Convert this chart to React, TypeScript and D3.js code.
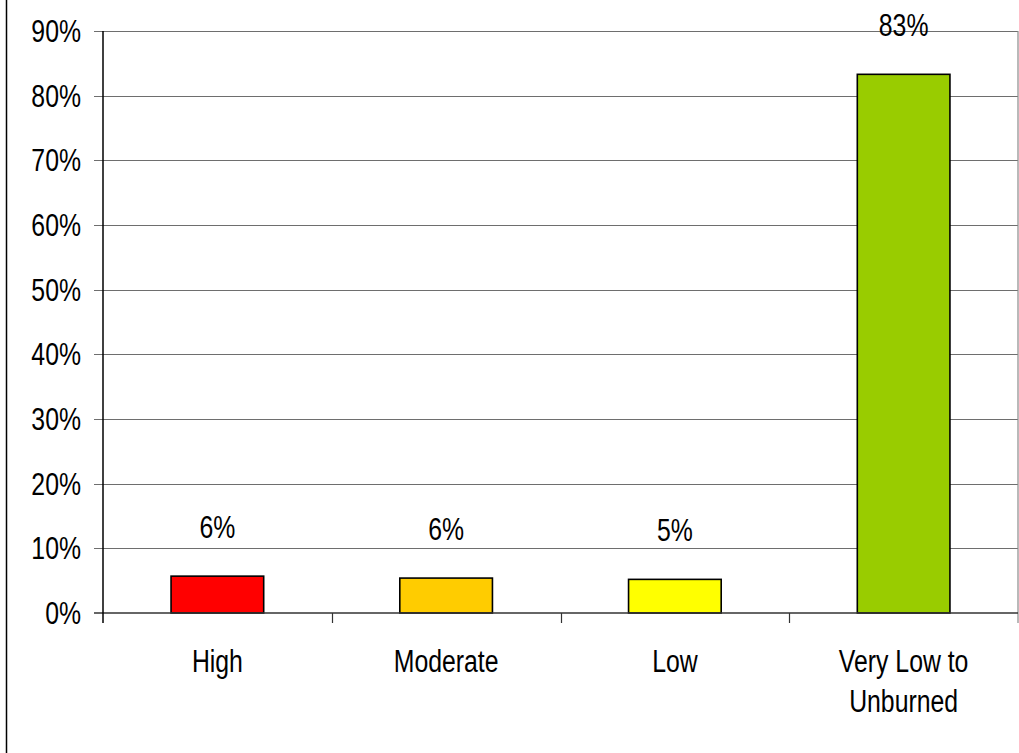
import * as React from 'react';
import * as d3 from 'd3';

const categories = ['High', 'Moderate', 'Low', 'Very Low to Unburned'];
const categoryLines = [['High'], ['Moderate'], ['Low'], ['Very Low to', 'Unburned']];
const values = [5.7, 5.4, 5.2, 83.3];
const valueLabels = ['6%', '6%', '5%', '83%'];
const barColors = ['#ff0000', '#ffcc00', '#ffff00', '#99cc00'];
const yTicks = [0, 10, 20, 30, 40, 50, 60, 70, 80, 90];

const width = 1019;
const height = 753;
const plot = { left: 103, right: 1018, top: 31, bottom: 613 };
const font = '"Liberation Sans", Arial, sans-serif';
const fontSize = 31;
// the original uses a narrow face; squeeze the regular one horizontally
const squeeze = 0.8;

export default class App extends React.Component {
    private node: SVGSVGElement | null = null;

    render() {
        return <svg
            ref={node => { this.node = node; }}
            width={width}
            height={height}
            style={{ position: 'absolute', left: 0, top: 0, background: '#fff' }}>
        </svg>;
    }

    componentDidMount() {
        this.draw();
    }

    draw() {
        const svg = d3.select(this.node);
        svg.selectAll('*').remove();

        const xScale = d3.scaleBand<string>()
            .domain(categories)
            .range([plot.left, plot.right])
            .padding(0);
        const yScale = d3.scaleLinear()
            .domain([0, 90])
            .range([plot.bottom, plot.top]);

        // outer frame line on the left
        svg.append('line')
            .attr('x1', 6.5).attr('x2', 6.5)
            .attr('y1', 0).attr('y2', height)
            .attr('stroke', '#000').attr('stroke-width', 1.5);

        // gridlines with small ticks to the left
        svg.append('g')
            .selectAll('line')
            .data(yTicks.filter(t => t > 0))
            .join('line')
            .attr('x1', plot.left - 9)
            .attr('x2', plot.right)
            .attr('y1', d => Math.round(yScale(d)) + 0.5)
            .attr('y2', d => Math.round(yScale(d)) + 0.5)
            .attr('stroke', '#6e6e6e')
            .attr('stroke-width', 1.2);

        // right border of plot area
        svg.append('line')
            .attr('x1', plot.right).attr('x2', plot.right)
            .attr('y1', plot.top).attr('y2', plot.bottom + 10)
            .attr('stroke', '#8a8a8a').attr('stroke-width', 1.2);

        // y tick labels
        svg.append('g')
            .selectAll('text')
            .data(yTicks)
            .join('text')
            .attr('transform', d => `translate(81,${yScale(d)}) scale(${squeeze},1)`)
            .attr('dy', '0.36em')
            .attr('text-anchor', 'end')
            .attr('font-family', font)
            .attr('font-size', fontSize)
            .attr('fill', '#000')
            .text(d => `${d}%`);

        // bars
        const barWidth = xScale.bandwidth() * 0.405;
        svg.append('g')
            .selectAll('rect')
            .data(categories)
            .join('rect')
            .attr('x', d => (xScale(d) || 0) + (xScale.bandwidth() - barWidth) / 2)
            .attr('y', (d, i) => yScale(values[i]))
            .attr('width', barWidth)
            .attr('height', (d, i) => yScale(0) - yScale(values[i]))
            .attr('fill', (d, i) => barColors[i])
            .attr('stroke', '#000')
            .attr('stroke-width', 1.6);

        // value labels
        svg.append('g')
            .selectAll('text')
            .data(categories)
            .join('text')
            .attr('transform', (d, i) =>
                `translate(${(xScale(d) || 0) + xScale.bandwidth() / 2},${yScale(values[i]) - 38}) scale(${squeeze},1)`)
            .attr('text-anchor', 'middle')
            .attr('font-family', font)
            .attr('font-size', fontSize)
            .attr('fill', '#000')
            .text((d, i) => valueLabels[i]);

        // axes lines
        svg.append('line')
            .attr('x1', plot.left - 9).attr('x2', plot.right)
            .attr('y1', plot.bottom).attr('y2', plot.bottom)
            .attr('stroke', '#333').attr('stroke-width', 1.5);
        svg.append('line')
            .attr('x1', plot.left).attr('x2', plot.left)
            .attr('y1', plot.top).attr('y2', plot.bottom + 10)
            .attr('stroke', '#000').attr('stroke-width', 1.5);

        // category boundary ticks
        svg.append('g')
            .selectAll('line')
            .data(categories.slice(1))
            .join('line')
            .attr('x1', d => Math.round(xScale(d) || 0) + 0.5)
            .attr('x2', d => Math.round(xScale(d) || 0) + 0.5)
            .attr('y1', plot.bottom)
            .attr('y2', plot.bottom + 10)
            .attr('stroke', '#333')
            .attr('stroke-width', 1.2);

        // category labels
        const catText = svg.append('g')
            .selectAll('text')
            .data(categories)
            .join('text')
            .attr('transform', d =>
                `translate(${(xScale(d) || 0) + xScale.bandwidth() / 2},672) scale(${squeeze},1)`)
            .attr('text-anchor', 'middle')
            .attr('font-family', font)
            .attr('font-size', fontSize)
            .attr('fill', '#000');

        catText.selectAll('tspan')
            .data((d, i) => categoryLines[i])
            .join('tspan')
            .attr('x', 0)
            .attr('dy', (d, j) => j === 0 ? 0 : 40)
            .text(d => d);
    }
}
